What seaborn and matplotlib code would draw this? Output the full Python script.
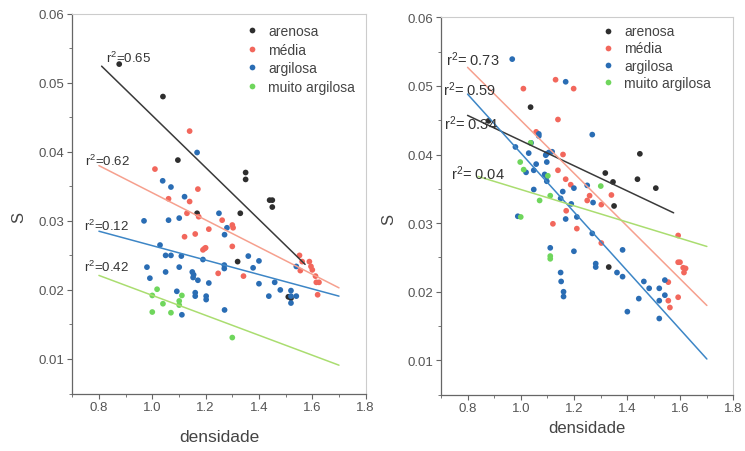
import numpy as np
import pandas as pd
import seaborn as sns
import matplotlib.pyplot as plt
from matplotlib.ticker import MultipleLocator

textures = ["arenosa", "média", "argilosa", "muito argilosa"]

# left panel points
arenosa_l_x = [0.876, 1.04, 1.096, 1.168, 1.33, 1.35, 1.35, 1.44, 1.45, 1.45, 1.32, 1.51, 1.52]
arenosa_l_y = [0.0527, 0.048, 0.0388, 0.0311, 0.0311, 0.037, 0.036, 0.033, 0.033, 0.032, 0.0241, 0.019, 0.0188]
media_l_x = [1.14, 1.01, 1.171, 1.061, 1.14, 1.13, 1.174, 1.262, 1.30, 1.303, 1.212, 1.121, 1.161, 1.30,
             1.19, 1.196, 1.20, 1.247, 1.342, 1.552, 1.562, 1.589, 1.595, 1.60, 1.555, 1.612, 1.615, 1.625, 1.62]
media_l_y = [0.043, 0.0375, 0.0346, 0.0332, 0.0328, 0.0311, 0.0306, 0.0301, 0.0294, 0.029, 0.0288, 0.0277, 0.0281, 0.0263,
             0.0258, 0.026, 0.0261, 0.0224, 0.022, 0.025, 0.0241, 0.0241, 0.0234, 0.0229, 0.0228, 0.022, 0.0211, 0.0211, 0.0193]
argilosa_l_x = [1.168, 1.039, 1.07, 1.121, 0.969, 1.061, 1.101, 1.25, 1.28, 1.271, 1.029, 1.05, 1.07, 1.109, 1.19,
                1.27, 1.27, 1.36, 1.40, 1.378, 0.98, 1.101, 0.991, 1.05, 1.15, 1.155, 1.153, 1.171, 1.212, 1.40,
                1.459, 1.48, 1.437, 1.52, 1.52, 1.52, 1.54, 1.092, 1.161, 1.161, 1.202, 1.202, 1.111, 1.271, 1.54]
argilosa_l_y = [0.0399, 0.0358, 0.0349, 0.0335, 0.030, 0.0301, 0.0304, 0.0311, 0.029, 0.028, 0.0265, 0.025, 0.025, 0.0249, 0.0244,
                0.0236, 0.0231, 0.0249, 0.0242, 0.0232, 0.0233, 0.0233, 0.0217, 0.0226, 0.0226, 0.0222, 0.0218, 0.0214, 0.021, 0.0209,
                0.0211, 0.020, 0.0191, 0.0199, 0.0191, 0.0181, 0.0191, 0.0198, 0.0196, 0.0191, 0.0191, 0.0186, 0.0164, 0.0171, 0.0234]
muito_l_x = [1.018, 1.0, 1.111, 1.101, 1.101, 1.04, 1.0, 1.07, 1.30]
muito_l_y = [0.0201, 0.0192, 0.0192, 0.0184, 0.0178, 0.018, 0.0168, 0.0167, 0.0131]

# right panel points
arenosa_r_x = [0.879, 1.037, 1.448, 1.318, 1.347, 1.439, 1.508, 1.351, 1.331]
arenosa_r_y = [0.0449, 0.0469, 0.0401, 0.0373, 0.036, 0.0364, 0.0351, 0.0325, 0.0236]
media_r_x = [1.131, 1.199, 1.01, 1.14, 1.058, 1.159, 1.14, 1.169, 1.188, 1.259, 1.25, 1.341, 1.303, 1.171,
             1.121, 1.211, 1.303, 1.592, 1.592, 1.599, 1.611, 1.62, 1.614, 1.592, 1.555, 1.561, 1.555]
media_r_y = [0.0509, 0.0496, 0.0496, 0.0451, 0.0433, 0.040, 0.0377, 0.0364, 0.0356, 0.034, 0.0333, 0.0341, 0.0327, 0.0318,
             0.0299, 0.0292, 0.0271, 0.0282, 0.0243, 0.0243, 0.0235, 0.0234, 0.0228, 0.0192, 0.0187, 0.0177, 0.0214]
argilosa_r_x = [0.968, 1.169, 1.269, 1.068, 1.068, 1.039, 0.98, 1.03, 1.097, 1.106, 1.118, 1.094, 1.058, 1.098,
                1.049, 1.02, 1.09, 1.098, 1.098, 1.25, 1.20, 1.158, 1.049, 1.15, 1.19, 1.272, 0.989, 1.211,
                1.169, 1.269, 1.111, 1.20, 1.383, 1.282, 1.282, 1.15, 1.362, 1.383, 1.152, 1.463, 1.542, 1.483,
                1.521, 1.542, 1.521, 1.161, 1.161, 1.444, 1.401, 1.521]
argilosa_r_y = [0.0539, 0.0506, 0.0429, 0.043, 0.0427, 0.0417, 0.0411, 0.0402, 0.0401, 0.0403, 0.0404, 0.0399, 0.0386, 0.0389,
                0.0377, 0.0374, 0.0371, 0.0368, 0.0361, 0.0355, 0.0351, 0.0346, 0.0349, 0.0336, 0.0328, 0.033, 0.031, 0.0309,
                0.0306, 0.0285, 0.0264, 0.0259, 0.0261, 0.0241, 0.0236, 0.0228, 0.0228, 0.0222, 0.0215, 0.0215, 0.0217, 0.0205,
                0.0205, 0.0195, 0.0187, 0.020, 0.0193, 0.019, 0.0171, 0.0161]
muito_r_x = [0.998, 1.011, 1.037, 1.102, 1.111, 1.071, 1.301, 1.0, 1.111, 1.111]
muito_r_y = [0.0389, 0.0378, 0.0417, 0.0369, 0.034, 0.0333, 0.0354, 0.0309, 0.0252, 0.0248]

# fitted lines (one per texture, same order as textures)
fit_l_x0 = [0.81, 0.8, 0.8, 0.8]
fit_l_x1 = [1.573, 1.7, 1.7, 1.7]
fit_l_y0 = [0.0524, 0.038, 0.0285, 0.0221]
fit_l_y1 = [0.0237, 0.0203, 0.0191, 0.0091]
fit_r_x0 = [0.8, 0.8, 0.8, 0.84]
fit_r_x1 = [1.575, 1.7, 1.7, 1.7]
fit_r_y0 = [0.0457, 0.0527, 0.0488, 0.0368]
fit_r_y1 = [0.0315, 0.018, 0.0102, 0.0266]

r2_left = ["0.65", "0.62", "0.12", "0.42"]
r2_right = ["0.34", "0.73", "0.59", "0.04"]


def points_df(xs, ys):
    rows = []
    for t, x, y in zip(textures, xs, ys):
        for a, b in zip(x, y):
            rows.append((a, b, t))
    return pd.DataFrame(rows, columns=["densidade", "S", "textura"])


def lines_df(x0, x1, y0, y1):
    rows = []
    for i, t in enumerate(textures):
        rows.append((x0[i], y0[i], t))
        rows.append((x1[i], y1[i], t))
    return pd.DataFrame(rows, columns=["densidade", "S", "textura"])


left_pts = points_df([arenosa_l_x, media_l_x, argilosa_l_x, muito_l_x],
                     [arenosa_l_y, media_l_y, argilosa_l_y, muito_l_y])
right_pts = points_df([arenosa_r_x, media_r_x, argilosa_r_x, muito_r_x],
                      [arenosa_r_y, media_r_y, argilosa_r_y, muito_r_y])
left_fit = lines_df(fit_l_x0, fit_l_x1, fit_l_y0, fit_l_y1)
right_fit = lines_df(fit_r_x0, fit_r_x1, fit_r_y0, fit_r_y1)

sns.set_style("ticks")
plt.rcParams["font.family"] = ["Liberation Sans", "DejaVu Sans"]
plt.rcParams["mathtext.default"] = "regular"

dot_pal = {"arenosa": "#2e2e2e", "média": "#f2675c", "argilosa": "#2a6db4", "muito argilosa": "#6fd65c"}
line_pal = {"arenosa": "#3a3a3a", "média": "#f6a08e", "argilosa": "#3d86c6", "muito argilosa": "#aadd70"}

fig = plt.figure(figsize=(7.45, 4.52), dpi=100)
ax1 = fig.add_axes([0.0970, 0.1272, 0.3938, 0.8403])
ax2 = fig.add_axes([0.5919, 0.1246, 0.3926, 0.8350])

panels = [
    (ax1, left_pts, left_fit, r2_left, "=", 9.5,
     [(0.827, 0.0536), (0.747, 0.0387), (0.743, 0.0294), (0.743, 0.0234)],
     (0.589, 0.972), 0.32, (-0.158, 0.465), (0.5, -0.093), 12.5),
    (ax2, right_pts, right_fit, r2_right, "= ", 10.5,
     [(0.712, 0.0446), (0.72, 0.0539), (0.708, 0.0496), (0.737, 0.0374)],
     (0.548, 0.981), 0.22, (-0.154, 0.468), (0.5, -0.067), 12),
]

for ax, pts, fit, r2, eq, r2size, r2pos, leg_at, leg_sp, ylab_at, xlab_at, xlab_size in panels:
    sns.lineplot(data=fit, x="densidade", y="S", hue="textura", hue_order=textures,
                 palette=line_pal, estimator=None, sort=False, legend=False, lw=1.1, ax=ax)
    sns.scatterplot(data=pts, x="densidade", y="S", hue="textura", hue_order=textures,
                    palette=dot_pal, s=17, edgecolor="none", ax=ax)
    for val, (tx, ty) in zip(r2, r2pos):
        ax.text(tx, ty, "r$^2$" + eq + val, fontsize=r2size, color="#333333", va="center", ha="left")

    ax.set_xlim(0.7, 1.8)
    ax.set_ylim(0.005, 0.06)
    ax.xaxis.set_major_locator(MultipleLocator(0.2))
    ax.xaxis.set_minor_locator(MultipleLocator(0.1))
    ax.yaxis.set_major_locator(MultipleLocator(0.01))
    ax.yaxis.set_minor_locator(MultipleLocator(0.005))
    ax.set_xticks(np.arange(0.8, 1.81, 0.2))
    ax.set_xticklabels(["0.8", "1.0", "1.2", "1.4", "1.6", "1.8"])
    ax.set_yticks(np.arange(0.01, 0.061, 0.01))
    ax.set_yticklabels(["0.01", "0.02", "0.03", "0.04", "0.05", "0.06"])
    ax.tick_params(which="major", direction="out", length=3.5, width=0.8, color="#666666",
                   labelsize=9.5, labelcolor="#555555", pad=2)
    ax.tick_params(which="minor", direction="out", length=2, width=0.7, color="#777777")
    for side in ["left", "bottom"]:
        ax.spines[side].set_color("#666666")
        ax.spines[side].set_linewidth(0.9)
    for side in ["top", "right"]:
        ax.spines[side].set_color("#cccccc")
        ax.spines[side].set_linewidth(0.8)

    ax.set_xlabel("densidade", fontsize=xlab_size, color="#444444")
    ax.set_ylabel("S", fontsize=12, color="#444444")
    ax.xaxis.set_label_coords(*xlab_at)
    ax.yaxis.set_label_coords(*ylab_at)

    handles, labels = ax.get_legend_handles_labels()
    ax.legend(handles, labels, frameon=False, loc="upper left", bbox_to_anchor=leg_at,
              borderpad=0, borderaxespad=0, handlelength=1.0, handletextpad=0.65,
              labelspacing=leg_sp, fontsize=10, labelcolor="#444444", markerscale=1.0)

fig.savefig("out.png", dpi=100)
